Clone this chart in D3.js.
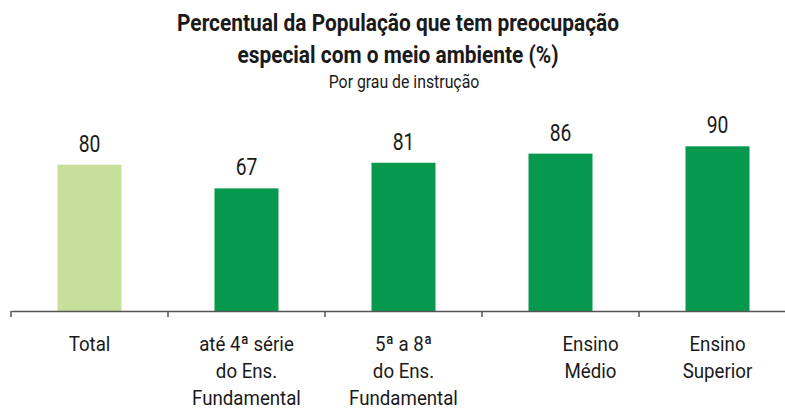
<!DOCTYPE html>
<html>
<head>
<meta charset="utf-8">
<script src="https://cdn.jsdelivr.net/npm/d3@7"></script>
<style>
  html, body { margin: 0; padding: 0; background: #fff; }
  svg { display: block; }
  text { font-family: 'Roboto', 'Liberation Sans', sans-serif; fill: #1a1a1a; }
</style>
</head>
<body>
<div id="chart"></div>
<script>
const titleLines = ['Percentual da População que tem preocupação', 'especial com o meio ambiente (%)'];
const subtitle = 'Por grau de instrução';

const categories = ['Total', 'até 4ª série do Ens. Fundamental', '5ª a 8ª do Ens. Fundamental', 'Ensino Médio', 'Ensino Superior'];
const categoryLines = [
	['Total'],
	['até 4ª série', 'do Ens.', 'Fundamental'],
	['5ª a 8ª', 'do Ens.', 'Fundamental'],
	['Ensino', 'Médio'],
	['Ensino', 'Superior']
];
const values = [80, 67, 81, 86, 90];
const highlight = ['Total'];

const width = 785;
const height = 409;
const base = 311;

const svg = d3.select('#chart').append('svg')
	.attr('width', width)
	.attr('height', height);

// no condensed font installed, so squeeze centred text horizontally
const squeezed = function(sel, cx, cy, k) {
	return sel
		.attr('text-anchor', 'middle')
		.attr('x', 0)
		.attr('y', 0)
		.attr('transform', (d, i) => `translate(${cx(d, i)},${cy(d, i)}) scale(${k},1)`);
};

// titles
svg.selectAll('text.title')
	.data(titleLines)
	.join('text')
		.attr('class', 'title')
		.call(squeezed, () => 398, (d, i) => 31 + i * 32, 0.87)
		.style('font-weight', 'bold')
		.style('font-size', '24px')
		.text(d => d);

svg.append('text')
	.datum(subtitle)
	.call(squeezed, () => 404, () => 88, 0.88)
	.style('font-size', '18px')
	.text(d => d);

const x = d3.scaleBand()
	.domain(categories)
	.range([11, 11 + 157 * categories.length])
	.paddingInner(0)
	.paddingOuter(0);

const y = d3.scaleLinear()
	.domain([0, 100])
	.range([base, base - 183]);

const barW = 64;
const mid = c => x(c) + x.bandwidth() / 2;

svg.selectAll('rect.bar')
	.data(values)
	.join('rect')
		.attr('class', 'bar')
		.attr('x', (d, i) => mid(categories[i]) - barW / 2)
		.attr('y', d => y(d))
		.attr('width', barW)
		.attr('height', d => y(0) - y(d))
		.attr('fill', (d, i) => highlight.includes(categories[i]) ? '#c6e09c' : '#06984c');

svg.selectAll('text.value')
	.data(values)
	.join('text')
		.attr('class', 'value')
		.call(squeezed, (d, i) => mid(categories[i]), d => y(d) - 13, 0.84)
		.style('font-size', '23px')
		.text(d => d);

// axis
const axis = d3.axisBottom(x).tickSize(0).tickFormat('');
const axisG = svg.append('g')
	.attr('transform', `translate(0,${base})`)
	.call(axis);
axisG.select('.domain').attr('stroke', '#555').attr('stroke-width', 1.5);
axisG.selectAll('line.sep')
	.data(categories)
	.join('line')
		.attr('class', 'sep')
		.attr('x1', d => x(d))
		.attr('x2', d => x(d))
		.attr('y1', 0)
		.attr('y2', 6)
		.attr('stroke', '#555')
		.attr('stroke-width', 1.5);

// category labels
const labelShift = { 'Ensino Médio': 30 };
svg.selectAll('g.cat')
	.data(categories)
	.join('g')
		.attr('class', 'cat')
		.each(function(d, i) {
			d3.select(this).selectAll('text')
				.data(categoryLines[i])
				.join('text')
					.call(squeezed, () => mid(d) + (labelShift[d] || 0), (t, j) => 351 + j * 27, 0.89)
					.style('font-size', '21px')
					.text(t => t);
		});
</script>
</body>
</html>
